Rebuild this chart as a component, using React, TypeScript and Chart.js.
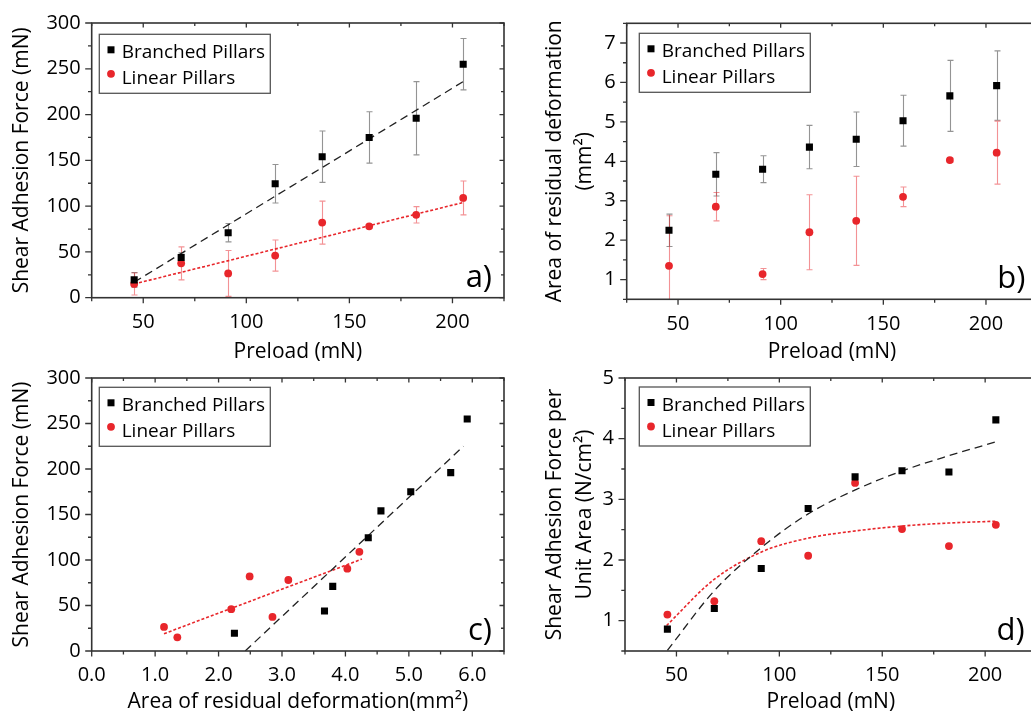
import React, { useEffect, useRef } from 'react';
import { Chart, registerables } from 'chart.js';

Chart.register(...registerables);

const FONT = "'Open Sans', 'DejaVu Sans', sans-serif";
const RED = '#e8262b';
const BLACK = '#000000';

// ---------- data ----------
const preload = [45.6, 68.4, 91.2, 114, 136.8, 159.6, 182.4, 205.2];

const shearBranched = [19.5, 44, 71, 124.5, 154, 175, 196, 255];
const shearBranchedErr = [8, 5, 10, 21, 28, 28, 40, 28];
const shearLinear = [15, 37.5, 26.5, 46, 82, 78, 90.5, 109];
const shearLinearErr = [12, 18, 25, 17, 23.5, 2, 9, 18.5];

const areaBranched = [2.25, 3.67, 3.8, 4.36, 4.56, 5.03, 5.66, 5.92];
const areaBranchedErr = [0.41, 0.55, 0.34, 0.55, 0.69, 0.645, 0.9, 0.88];
const areaLinear = [1.35, 2.85, 1.14, 2.2, 2.49, 3.1, 4.03, 4.22];
const areaLinearErr = [1.27, 0.36, 0.14, 0.95, 1.13, 0.25, 0.05, 0.8];

const perAreaBranched = [0.86, 1.2, 1.86, 2.85, 3.37, 3.47, 3.45, 4.31];
const perAreaLinear = [1.1, 1.32, 2.31, 2.07, 3.27, 2.51, 2.23, 2.58];

// fitted lines / curves
const fitA_BranchedX = [45.6, 205.2];
const fitA_BranchedY = [17, 236];
const fitA_LinearX = [45.6, 205.2];
const fitA_LinearY = [15, 104];

const fitC_BranchedX = [2.42, 5.86];
const fitC_BranchedY = [0, 225];
const fitC_LinearX = [1.14, 4.26];
const fitC_LinearY = [19, 101];

const fitD_BranchedX = [45.6, 68.3, 91.8, 114, 137.2, 159.8, 182.5, 205.5];
const fitD_BranchedY = [0.51, 1.49, 2.22, 2.76, 3.16, 3.47, 3.72, 3.95];
const fitD_LinearX = [45.2, 68.3, 91.8, 114, 137.2, 159.8, 182.5, 205.5];
const fitD_LinearY = [0.92, 1.68, 2.14, 2.36, 2.48, 2.56, 2.61, 2.64];

// ticks
const preloadMajor = [50, 100, 150, 200];
const preloadMinor = [25, 75, 125, 175, 225];
const shearMajor = [0, 50, 100, 150, 200, 250, 300];
const shearMinor = [25, 75, 125, 175, 225, 275];
const areaYMajor = [1, 2, 3, 4, 5, 6, 7];
const areaYMinor = [0.5, 1.5, 2.5, 3.5, 4.5, 5.5, 6.5, 7.5];
const areaXMajor = [0, 1, 2, 3, 4, 5, 6];
const areaXMinor = [0.5, 1.5, 2.5, 3.5, 4.5, 5.5, 6.5];
const perAreaMajor = [1, 2, 3, 4, 5];
const perAreaMinor = [0.5, 1.5, 2.5, 3.5, 4.5];

const legendNames = ['Branched Pillars', 'Linear Pillars'];

// ---------- helpers ----------
const pts = (xs: number[], ys: number[]) => xs.map((x, i) => ({ x, y: ys[i] }));

const branchedStyle = {
  pointStyle: 'rect',
  pointRadius: 5,
  backgroundColor: BLACK,
  borderColor: BLACK,
  borderWidth: 0,
  showLine: false,
  order: 0,
};
const linearStyle = {
  pointStyle: 'circle',
  pointRadius: 3.9,
  backgroundColor: RED,
  borderColor: RED,
  borderWidth: 0,
  showLine: false,
  order: 0,
};
const blackFit = {
  showLine: true,
  pointRadius: 0,
  borderColor: '#222',
  borderWidth: 1.3,
  borderDash: [8, 5],
  order: 1,
};
const redFit = {
  showLine: true,
  pointRadius: 0,
  borderColor: RED,
  borderWidth: 1.6,
  borderDash: [3, 2],
  order: 1,
};

const errorBarPlugin = {
  id: 'errorBars',
  beforeDatasetsDraw(chart: any) {
    const { ctx, chartArea } = chart;
    const xs = chart.scales.x;
    const ys = chart.scales.y;
    ctx.save();
    ctx.beginPath();
    ctx.rect(chartArea.left, chartArea.top, chartArea.right - chartArea.left, chartArea.bottom - chartArea.top);
    ctx.clip();
    chart.data.datasets.forEach((ds: any) => {
      if (!ds.errors) return;
      ctx.strokeStyle = ds.errorColor;
      ctx.lineWidth = 1.1;
      ds.data.forEach((p: any, i: number) => {
        const e = ds.errors[i];
        const px = Math.round(xs.getPixelForValue(p.x)) + 0.5;
        const t = ys.getPixelForValue(p.y + e);
        const b = ys.getPixelForValue(p.y - e);
        ctx.beginPath();
        ctx.moveTo(px, t);
        ctx.lineTo(px, b);
        ctx.moveTo(px - 3, t);
        ctx.lineTo(px + 3, t);
        ctx.moveTo(px - 3, b);
        ctx.lineTo(px + 3, b);
        ctx.stroke();
      });
    });
    ctx.restore();
  },
};

const framePlugin = {
  id: 'frame',
  afterDraw(chart: any, _args: any, opts: any) {
    const { ctx, chartArea } = chart;
    const { left, right, top, bottom } = chartArea;
    const xs = chart.scales.x;
    const ys = chart.scales.y;
    ctx.save();
    ctx.strokeStyle = '#333';
    ctx.lineWidth = 1.6;
    ctx.strokeRect(left, top, right - left, bottom - top);
    ctx.lineWidth = 1.3;
    ctx.beginPath();
    const xt = (v: number, len: number, inLen: number) => {
      const px = xs.getPixelForValue(v);
      ctx.moveTo(px, bottom);
      ctx.lineTo(px, bottom + len);
      ctx.moveTo(px, top);
      ctx.lineTo(px, top + inLen);
    };
    const yt = (v: number, len: number, inLen: number) => {
      const py = ys.getPixelForValue(v);
      ctx.moveTo(left, py);
      ctx.lineTo(left - len, py);
      ctx.moveTo(right, py);
      ctx.lineTo(right - inLen, py);
    };
    opts.xMajor.forEach((v: number) => xt(v, 5.5, 4.5));
    opts.xMinor.forEach((v: number) => xt(v, 3.5, 3));
    opts.yMajor.forEach((v: number) => yt(v, 6.5, 4.5));
    opts.yMinor.forEach((v: number) => yt(v, 3.7, 3));
    ctx.stroke();

    // panel letter
    ctx.fillStyle = '#000';
    ctx.font = `31px ${FONT}`;
    ctx.textAlign = 'right';
    ctx.textBaseline = 'alphabetic';
    ctx.fillText(opts.letter, right - 12, bottom - 11);

    // legend box
    const bx = left + opts.legendDx;
    const by = top + opts.legendDy;
    ctx.fillStyle = '#fff';
    ctx.fillRect(bx, by, 171, 59);
    ctx.strokeStyle = '#555';
    ctx.lineWidth = 1.3;
    ctx.strokeRect(bx, by, 171, 59);
    ctx.fillStyle = BLACK;
    ctx.fillRect(bx + 11.7 - 3.5, by + 15.5 - 3.5, 7, 7);
    ctx.fillStyle = RED;
    ctx.beginPath();
    ctx.arc(bx + 11.7, by + 39.5, 3.9, 0, Math.PI * 2);
    ctx.fill();
    ctx.fillStyle = '#000';
    ctx.font = `19px ${FONT}`;
    ctx.textAlign = 'left';
    ctx.fillText(legendNames[0], bx + 22.4, by + 24);
    ctx.fillText(legendNames[1], bx + 22.4, by + 50);
    ctx.restore();
  },
};

type PanelCfg = {
  x: number;
  y: number;
  w: number;
  h: number;
  area: { l: number; t: number; r: number; b: number };
  xMin: number;
  xMax: number;
  yMin: number;
  yMax: number;
  xMajor: number[];
  xMinor: number[];
  yMajor: number[];
  yMinor: number[];
  xTitle: string;
  yTitle: string | string[];
  yTitlePad: number;
  xFixed?: number;
  letter: string;
  legendDx: number;
  legendDy: number;
  datasets: any[];
};

function buildConfig(c: PanelCfg): any {
  return {
    type: 'scatter',
    data: { datasets: c.datasets },
    plugins: [errorBarPlugin, framePlugin],
    options: {
      responsive: false,
      animation: false,
      devicePixelRatio: 1,
      events: [],
      layout: { padding: { top: c.area.t - c.y, right: c.x + c.w - c.area.r, left: 0, bottom: 0 } },
      plugins: {
        legend: { display: false },
        tooltip: { enabled: false },
        frame: {
          xMajor: c.xMajor,
          xMinor: c.xMinor,
          yMajor: c.yMajor,
          yMinor: c.yMinor,
          letter: c.letter,
          legendDx: c.legendDx,
          legendDy: c.legendDy,
        },
      },
      scales: {
        x: {
          type: 'linear',
          position: 'bottom',
          min: c.xMin,
          max: c.xMax,
          grid: { display: false, drawTicks: false },
          border: { display: false },
          afterBuildTicks: (s: any) => {
            s.ticks = c.xMajor.map((v) => ({ value: v }));
          },
          afterFit: (s: any) => {
            s.height = c.y + c.h - c.area.b;
          },
          ticks: {
            autoSkip: false,
            maxRotation: 0,
            padding: 12.5,
            color: '#000',
            font: { family: FONT, size: 20 },
            callback: (v: number) => (c.xFixed !== undefined ? Number(v).toFixed(c.xFixed) : String(v)),
          },
          title: {
            display: true,
            text: c.xTitle,
            color: '#000',
            font: { family: FONT, size: 21, lineHeight: 1 },
            padding: 0,
          },
        },
        y: {
          type: 'linear',
          position: 'left',
          min: c.yMin,
          max: c.yMax,
          grid: { display: false, drawTicks: false },
          border: { display: false },
          afterBuildTicks: (s: any) => {
            s.ticks = c.yMajor.map((v) => ({ value: v }));
          },
          afterFit: (s: any) => {
            s.width = c.area.l - c.x;
          },
          ticks: {
            autoSkip: false,
            padding: 11,
            color: '#000',
            font: { family: FONT, size: 20 },
          },
          title: {
            display: true,
            text: c.yTitle,
            color: '#000',
            font: { family: FONT, size: 21, lineHeight: 1.45 },
            padding: { top: c.yTitlePad, bottom: 0 },
          },
        },
      },
    },
  };
}

const panels: PanelCfg[] = [
  {
    x: 0,
    y: 0,
    w: 520,
    h: 363,
    area: { l: 91.7, t: 22, r: 504, b: 297.7 },
    xMin: 25,
    xMax: 225,
    yMin: 0,
    yMax: 300,
    xMajor: preloadMajor,
    xMinor: preloadMinor,
    yMajor: shearMajor,
    yMinor: shearMinor,
    xTitle: 'Preload (mN)',
    yTitle: 'Shear Adhesion Force (mN)',
    yTitlePad: 6.8,
    letter: 'a)',
    legendDx: 7.6,
    legendDy: 11.3,
    datasets: [
      { ...branchedStyle, label: legendNames[0], data: pts(preload, shearBranched), errors: shearBranchedErr, errorColor: 'rgba(60,60,60,0.55)' },
      { ...linearStyle, label: legendNames[1], data: pts(preload, shearLinear), errors: shearLinearErr, errorColor: 'rgba(232,38,43,0.5)' },
      { ...blackFit, label: 'fitB', data: pts(fitA_BranchedX, fitA_BranchedY) },
      { ...redFit, label: 'fitL', data: pts(fitA_LinearX, fitA_LinearY) },
    ],
  },
  {
    x: 510,
    y: 0,
    w: 540,
    h: 363,
    area: { l: 626.7, t: 23.3, r: 1037.3, b: 299.3 },
    xMin: 25,
    xMax: 225,
    yMin: 0.5,
    yMax: 7.5,
    xMajor: preloadMajor,
    xMinor: preloadMinor,
    yMajor: areaYMajor,
    yMinor: areaYMinor,
    xTitle: 'Preload (mN)',
    yTitle: ['Area of residual deformation', '(mm²)'],
    yTitlePad: 29.8,
    letter: 'b)',
    legendDx: 12.6,
    legendDy: 10,
    datasets: [
      { ...branchedStyle, label: legendNames[0], data: pts(preload, areaBranched), errors: areaBranchedErr, errorColor: 'rgba(60,60,60,0.55)' },
      { ...linearStyle, label: legendNames[1], data: pts(preload, areaLinear), errors: areaLinearErr, errorColor: 'rgba(232,38,43,0.5)' },
    ],
  },
  {
    x: 0,
    y: 355,
    w: 520,
    h: 358,
    area: { l: 91.7, t: 374, r: 504, b: 651 },
    xMin: 0,
    xMax: 6.5,
    yMin: 0,
    yMax: 300,
    xMajor: areaXMajor,
    xMinor: areaXMinor,
    yMajor: shearMajor,
    yMinor: shearMinor,
    xFixed: 1,
    xTitle: 'Area of residual deformation(mm²)',
    yTitle: 'Shear Adhesion Force (mN)',
    yTitlePad: 6.8,
    letter: 'c)',
    legendDx: 7.6,
    legendDy: 9.3,
    datasets: [
      { ...branchedStyle, label: legendNames[0], data: pts(areaBranched, shearBranched) },
      { ...linearStyle, label: legendNames[1], data: pts(areaLinear, shearLinear) },
      { ...blackFit, label: 'fitB', data: pts(fitC_BranchedX, fitC_BranchedY) },
      { ...redFit, label: 'fitL', data: pts(fitC_LinearX, fitC_LinearY) },
    ],
  },
  {
    x: 510,
    y: 355,
    w: 540,
    h: 358,
    area: { l: 625, t: 374.3, r: 1036.6, b: 651 },
    xMin: 25,
    xMax: 225,
    yMin: 0.5,
    yMax: 5,
    xMajor: preloadMajor,
    xMinor: preloadMinor,
    yMajor: perAreaMajor,
    yMinor: perAreaMinor,
    xTitle: 'Preload (mN)',
    yTitle: ['Shear Adhesion Force per', 'Unit Area (N/cm²)'],
    yTitlePad: 29.8,
    letter: 'd)',
    legendDx: 14.3,
    legendDy: 9,
    datasets: [
      { ...branchedStyle, label: legendNames[0], data: pts(preload, perAreaBranched) },
      { ...linearStyle, label: legendNames[1], data: pts(preload, perAreaLinear) },
      { ...blackFit, label: 'fitB', cubicInterpolationMode: 'monotone', data: pts(fitD_BranchedX, fitD_BranchedY) },
      { ...redFit, label: 'fitL', cubicInterpolationMode: 'monotone', data: pts(fitD_LinearX, fitD_LinearY) },
    ],
  },
];

function Panel({ cfg }: { cfg: PanelCfg }) {
  const ref = useRef<HTMLCanvasElement | null>(null);
  useEffect(() => {
    if (!ref.current) return;
    const chart = new Chart(ref.current, buildConfig(cfg));
    return () => chart.destroy();
  }, [cfg]);
  return (
    <canvas
      ref={ref}
      width={cfg.w}
      height={cfg.h}
      style={{ position: 'absolute', left: cfg.x, top: cfg.y, width: cfg.w, height: cfg.h }}
    />
  );
}

export default function App() {
  return (
    <div
      style={{
        position: 'fixed',
        left: 0,
        top: 0,
        width: 1031,
        height: 713,
        overflow: 'hidden',
        background: '#fff',
      }}
    >
      {panels.map((p, i) => (
        <Panel key={i} cfg={p} />
      ))}
    </div>
  );
}
